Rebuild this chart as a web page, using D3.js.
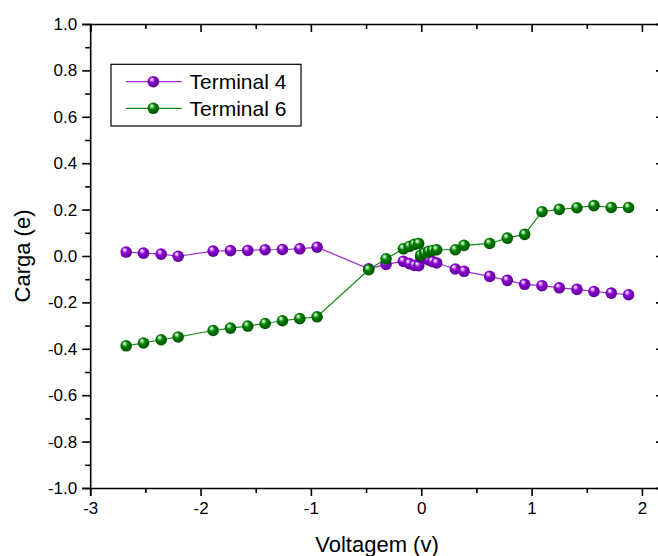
<!DOCTYPE html>
<html><head><meta charset="utf-8">
<script src="https://cdn.jsdelivr.net/npm/d3@7"></script>
<style>body{margin:0;background:#fff}svg{display:block;font-family:"Liberation Sans",Arial,sans-serif}</style>
</head><body>
<svg id="c" width="658" height="556"></svg>
<script>
const voltage = [-2.674,-2.517,-2.357,-2.203,-1.886,-1.729,-1.572,-1.415,-1.258,-1.101,-0.944,-0.476,-0.319,-0.162,-0.107,-0.062,-0.023,-0.005,0.030,0.067,0.103,0.140,0.309,0.388,0.620,0.780,0.937,1.094,1.251,1.411,1.565,1.722,1.879];
const terminal4 = [0.017,0.0125,0.008,-0.001,0.021,0.023,0.024,0.027,0.028,0.031,0.038,-0.055,-0.036,-0.023,-0.033,-0.041,-0.042,-0.006,-0.011,-0.017,-0.024,-0.030,-0.056,-0.066,-0.088,-0.105,-0.122,-0.128,-0.137,-0.144,-0.153,-0.160,-0.167];
const terminal6 = [-0.387,-0.375,-0.361,-0.349,-0.321,-0.311,-0.302,-0.291,-0.279,-0.270,-0.262,-0.059,-0.012,0.031,0.041,0.050,0.054,0.003,0.0125,0.020,0.024,0.027,0.027,0.046,0.054,0.077,0.093,0.191,0.201,0.208,0.217,0.209,0.209];
const seriesNames = ["Terminal 4","Terminal 6"];
const xTicks = [-3,-2,-1,0,1,2];
const yTicks = [-1.0,-0.8,-0.6,-0.4,-0.2,0.0,0.2,0.4,0.6,0.8,1.0];
const xTitle = "Voltagem (v)", yTitle = "Carga (e)";

(function(){
const svg = d3.select("#c");
const x = d3.scaleLinear().domain([-3, 2.2]).range([90.2, 664]);
const y = d3.scaleLinear().domain([-1, 1]).range([488, 24]);

const colors = [
  {line:"#9a2fd0", base:"#8a00cc", light:"#d9a8ff", dark:"#5a0090", id:"gp"},
  {line:"#118a11", base:"#008000", light:"#9ee09e", dark:"#004d00", id:"gg"}
];
const defs = svg.append("defs");
colors.forEach(c => {
  const g = defs.append("radialGradient").attr("id", c.id)
    .attr("cx","45%").attr("cy","45%").attr("r","60%").attr("fx","35%").attr("fy","28%");
  g.append("stop").attr("offset","0%").attr("stop-color","#ffffff");
  g.append("stop").attr("offset","16%").attr("stop-color",c.light);
  g.append("stop").attr("offset","42%").attr("stop-color",c.base);
  g.append("stop").attr("offset","100%").attr("stop-color",c.dark);
});

const fmtY = d => d.toFixed(1).replace("\u2212","-");
const fmtX = d => String(d);
const minorX = [-2.5,-1.5,-0.5,0.5,1.5];
const minorY = [-0.9,-0.7,-0.5,-0.3,-0.1,0.1,0.3,0.5,0.7,0.9];

const sw = 1.6;
const axBottom = d3.axisBottom(x).tickValues(xTicks).tickFormat(fmtX).tickSize(8).tickPadding(6);
const axBottomMinor = d3.axisBottom(x).tickValues(minorX).tickFormat("").tickSize(5);
const axLeft = d3.axisLeft(y).tickValues(yTicks).tickFormat(fmtY).tickSize(8).tickPadding(5);
const axLeftMinor = d3.axisLeft(y).tickValues(minorY).tickFormat("").tickSize(5);
const axTop = d3.axisBottom(x).tickValues(xTicks).tickFormat("").tickSize(8);
const axTopMinor = d3.axisBottom(x).tickValues(minorX).tickFormat("").tickSize(5);
const axRight = d3.axisLeft(y).tickValues(yTicks).tickFormat("").tickSize(8);
const axRightMinor = d3.axisLeft(y).tickValues(minorY).tickFormat("").tickSize(5);

function style(g){
  g.select(".domain").attr("stroke","#000").attr("stroke-width",sw);
  g.selectAll(".tick line").attr("stroke","#000").attr("stroke-width",sw);
  g.selectAll(".tick text").attr("fill","#000").attr("font-size",17).attr("font-family","Liberation Sans, Arial, sans-serif");
}
svg.append("g").attr("transform","translate(0,488)").call(axBottom).call(style);
svg.append("g").attr("transform","translate(0,488)").call(axBottomMinor).call(style).select(".domain").remove();
svg.append("g").attr("transform","translate(90.2,0)").call(axLeft).call(style);
svg.append("g").attr("transform","translate(90.2,0)").call(axLeftMinor).call(style).select(".domain").remove();
svg.append("g").attr("transform","translate(0,24)").call(axTop).call(style);
svg.append("g").attr("transform","translate(0,24)").call(axTopMinor).call(style).select(".domain").remove();
svg.append("g").attr("transform","translate(664,0)").call(axRight).call(style);
svg.append("g").attr("transform","translate(664,0)").call(axRightMinor).call(style).select(".domain").remove();

svg.append("text").attr("x",377).attr("y",552).attr("text-anchor","middle")
  .attr("font-size",22).attr("fill","#000").text(xTitle);
svg.append("text").attr("transform","translate(30,256) rotate(-90)").attr("text-anchor","middle")
  .attr("font-size",22).attr("fill","#000").text(yTitle);

const series = [terminal4, terminal6];
const line = d3.line().x(d => x(d[0])).y(d => y(d[1]));
series.forEach((vals, i) => {
  const pts = voltage.map((v, k) => [v, vals[k]]);
  svg.append("path").datum(pts).attr("d", line).attr("fill","none")
    .attr("stroke", colors[i].line).attr("stroke-width",1.2);
});
series.forEach((vals, i) => {
  const pts = voltage.map((v, k) => [v, vals[k]]);
  svg.append("g").selectAll("circle").data(pts).join("circle")
    .attr("cx", d => x(d[0])).attr("cy", d => y(d[1])).attr("r",5.8)
    .attr("fill", `url(#${colors[i].id})`);
});

const lg = svg.append("g");
lg.append("rect").attr("x",111).attr("y",64.3).attr("width",190).attr("height",61.7)
  .attr("fill","#fff").attr("stroke","#000").attr("stroke-width",1.2);
seriesNames.forEach((n, i) => {
  const yy = 81.7 + i*26.6;
  lg.append("line").attr("x1",126).attr("x2",181.7).attr("y1",yy).attr("y2",yy)
    .attr("stroke",colors[i].line).attr("stroke-width",1.2);
  lg.append("circle").attr("cx",153.3).attr("cy",yy).attr("r",5.8).attr("fill",`url(#${colors[i].id})`);
  lg.append("text").attr("x",189.5).attr("y",yy).attr("dy","0.36em").attr("font-size",21)
    .attr("fill","#000").text(n);
});
})();
</script>
</body></html>
